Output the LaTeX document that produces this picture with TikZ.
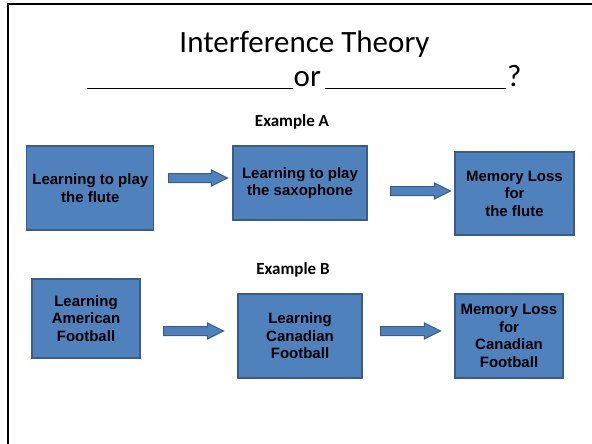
\documentclass[tikz,border=0pt]{standalone}
\usepackage{fontspec}
\setmainfont{Carlito}
\newfontfamily\boxfont{Liberation Sans}
\usetikzlibrary{shapes.arrows}
\definecolor{boxblue}{HTML}{4F81BD}
\definecolor{boxedge}{HTML}{385D8A}
\tikzset{
  stepbox/.style={draw=boxedge, line width=1.2pt, fill=boxblue, inner sep=0pt,
    align=center, font=\boxfont\bfseries\fontsize{15}{17.5}\selectfont},
  blockarrow/.style={shape=single arrow, draw=boxedge, line width=1pt, fill=boxblue,
    inner sep=4pt, single arrow head extend=3.5pt, single arrow tip angle=53,
    minimum height=#1},
  blockarrow/.default=60pt,
  heading/.style={font=\fontsize{17}{20}\selectfont\bfseries, anchor=base, inner sep=0pt},
}
\begin{document}
\begin{tikzpicture}[x=1pt, y=-1pt]
  \useasboundingbox (0,0) rectangle (592,444);
  % frame
  \draw[line width=2pt] (7.6,444) -- (7.6,4.2) -- (592,4.2);

  % title
  \node[anchor=base, inner sep=0pt, font=\fontsize{31}{37}\selectfont] (title) at (304.5,53) {Interference Theory};
  \draw[line width=1.8pt] (86.7,88.5) -- (293,88.5);
  \node[anchor=base west, inner sep=0pt, font=\fontsize{31}{37}\selectfont] (or) at (293.5,87) {or};
  \draw[line width=1.8pt] (325,88.5) -- (505.5,88.5);
  \node[anchor=base west, inner sep=0pt, font=\fontsize{31}{37}\selectfont] (qm) at (507,87) {?};

  % Example A
  \node[heading] (exA) at (292,126.5) {Example A};
  \node[stepbox, minimum width=127pt, minimum height=84pt] (a1) at (90.3,188) {Learning to play\\the flute};
  \node[stepbox, minimum width=134pt, minimum height=74pt] (a2) at (300,183) {Learning to play\\the saxophone};
  \node[stepbox, minimum width=119pt, minimum height=83pt] (a3) at (514.5,193.5) {Memory Loss\\for\\the flute};
  \node[blockarrow=59pt] (ar1) at (193.5,178) {};
  \node[blockarrow=60pt] (ar2) at (416,191) {};

  % Example B
  \node[heading] (exB) at (293,274) {Example B};
  \node[stepbox, minimum width=108pt, minimum height=79pt] (b1) at (86,318.5) {Learning\\American\\Football};
  \node[stepbox, minimum width=124pt, minimum height=84pt] (b2) at (300,336) {Learning\\Canadian\\Football};
  \node[stepbox, minimum width=108pt, minimum height=84pt] (b3) at (509,336) {Memory Loss\\for\\Canadian\\Football};
  \node[blockarrow=60pt] (ar3) at (189,331) {};
  \node[blockarrow=60pt] (ar4) at (406,331) {};
\end{tikzpicture}
\end{document}
